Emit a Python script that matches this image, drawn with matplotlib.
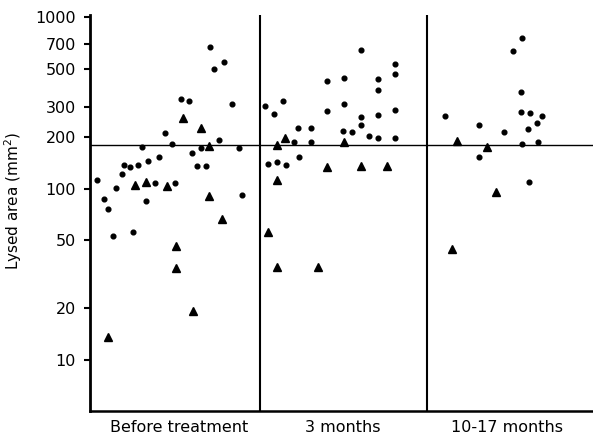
import matplotlib
matplotlib.use("Agg")
import matplotlib.pyplot as plt
from matplotlib.ticker import FixedLocator, NullLocator

# ---------------- data ----------------
group_labels = ["Before treatment", "3 months", "10-17 months"]
group_label_pos = [0.53, 1.51, 2.49]
group_edges = [1.014, 2.010]

yticks = [10, 20, 50, 100, 200, 300, 500, 700, 1000]
ref_level = 180

# Before treatment
before_dot_x = [0.040, 0.083, 0.109, 0.155, 0.189, 0.205, 0.239, 0.288, 0.308, 0.334,
                0.348, 0.386, 0.410, 0.447, 0.489, 0.507, 0.541, 0.592, 0.610, 0.640,
                0.694, 0.664, 0.714, 0.739, 0.771, 0.801, 0.849, 0.887, 0.908, 0.139, 0.255]
before_dot_y = [112, 87, 76, 101, 122, 138, 134, 138, 175, 85,
                145, 108, 153, 211, 183, 108, 333, 326, 161, 136,
                136, 172, 674, 499, 193, 553, 312, 172, 92, 53, 56]
before_tri_x = [0.268, 0.336, 0.457, 0.556, 0.660, 0.711, 0.711, 0.785, 0.106, 0.511, 0.513, 0.612]
before_tri_y = [105, 109, 103, 258, 226, 178, 91, 66, 13.6, 46, 34.5, 19.3]

# 3 months
m3_dot_x = [1.045, 1.095, 1.153, 1.240, 1.316, 1.215, 1.316, 1.063, 1.115, 1.167,
            1.248, 1.415, 1.413, 1.516, 1.516, 1.510, 1.564, 1.616, 1.618, 1.618,
            1.664, 1.717, 1.717, 1.716, 1.716, 1.817, 1.817, 1.817, 1.817]
m3_dot_y = [302, 272, 327, 227, 226, 187, 186, 139, 143, 138,
            154, 425, 284, 444, 313, 217, 215, 645, 262, 235,
            204, 436, 378, 271, 198, 534, 469, 287, 198]
m3_tri_x = [1.161, 1.113, 1.516, 1.415, 1.618, 1.769, 1.115, 1.063, 1.113, 1.361]
m3_tri_y = [198, 179, 186, 133, 135, 135, 112, 56, 35, 35]

# 10-17 months
m10_dot_x = [2.115, 2.318, 2.321, 2.471, 2.521, 2.574, 2.570, 2.570, 2.624, 2.610,
             2.667, 2.697, 2.574, 2.673, 2.618]
m10_dot_y = [265, 234, 154, 215, 641, 761, 368, 281, 276, 223,
             241, 267, 182, 186, 110]
m10_tri_x = [2.190, 2.366, 2.423, 2.160]
m10_tri_y = [191, 175, 95, 44.6]

# ---------------- figure ----------------
fig = plt.figure(figsize=(5.93, 4.37), dpi=100)
ax = fig.add_axes([90 / 593, 25.8 / 437, 503 / 593, (411.2 - 15) / 437])

ax.set_yscale("log")
ax.set_ylim(5, 1034)
ax.set_xlim(0, 3)

dot_kw = dict(marker="o", color="black", markersize=3.4, linestyle="none")
tri_kw = dict(marker="^", color="black", markersize=5.2, linestyle="none")

ax.plot(before_dot_x, before_dot_y, **dot_kw)
ax.plot(before_tri_x, before_tri_y, **tri_kw)
ax.plot(m3_dot_x, m3_dot_y, **dot_kw)
ax.plot(m3_tri_x, m3_tri_y, **tri_kw)
ax.plot(m10_dot_x, m10_dot_y, **dot_kw)
ax.plot(m10_tri_x, m10_tri_y, **tri_kw)

# panel dividers and reference line
for xd in group_edges:
    ax.axvline(xd, color="black", lw=1.5)
ax.axhline(ref_level, color="black", lw=1.0)

# spines
for s in ("top", "right"):
    ax.spines[s].set_visible(False)
ax.spines["left"].set_linewidth(2.0)
ax.spines["bottom"].set_linewidth(1.8)

# ticks
ax.yaxis.set_major_locator(FixedLocator(yticks))
ax.yaxis.set_minor_locator(NullLocator())
ax.set_yticklabels([str(v) for v in yticks])
ax.tick_params(axis="y", which="major", length=4, width=1.5, pad=6, labelsize=11.5)

ax.set_xticks(group_label_pos)
ax.set_xticklabels(group_labels)
ax.tick_params(axis="x", length=0, pad=6, labelsize=11.5)

ax.set_ylabel("Lysed area (mm$^2$)", fontsize=11)
ax.yaxis.set_label_coords(-0.131, 0.53)

fig.savefig("out.png", dpi=100)
